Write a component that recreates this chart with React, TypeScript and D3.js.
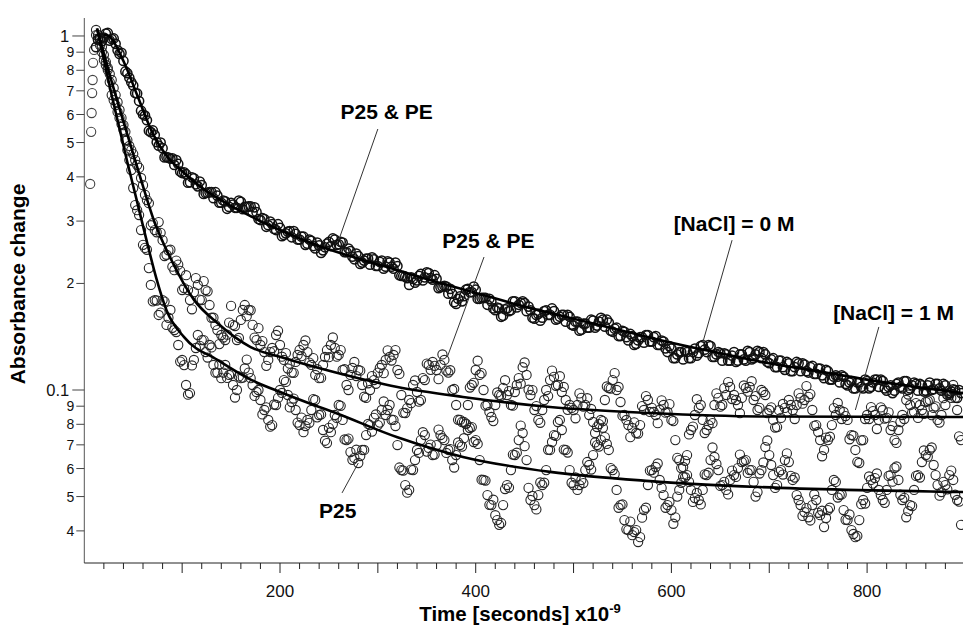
import React from 'react';
import * as d3 from 'd3';

// ---------- data ----------
const T0 = 12; // first sample time (ns)
const DT = 4;  // sampling step (ns); the "Mid" arrays are read at T0 + DT/2 + DT*i

// P25 & PE, [NaCl] = 0 M (upper trace)
const valuesA = [
  0.93, 0.985, 0.99, 1.02, 0.98, 0.95, 0.89, 0.85, 0.785, 0.74,
  0.69, 0.655, 0.60, 0.578, 0.535, 0.525, 0.49, 0.482, 0.455, 0.45,
  0.432, 0.435, 0.41, 0.407, 0.386, 0.396, 0.376, 0.379, 0.36, 0.362,
  0.348, 0.354, 0.338, 0.341, 0.329, 0.334, 0.327, 0.34, 0.329, 0.33,
  0.318, 0.318, 0.302, 0.304, 0.292, 0.294, 0.283, 0.287, 0.274, 0.28,
  0.27, 0.276, 0.266, 0.271, 0.259, 0.264, 0.251, 0.256, 0.248, 0.259,
  0.255, 0.266, 0.258, 0.261, 0.245, 0.247, 0.234, 0.239, 0.229, 0.235,
  0.226, 0.234, 0.224, 0.232, 0.223, 0.229, 0.22, 0.224, 0.21, 0.209,
  0.198, 0.206, 0.204, 0.213, 0.208, 0.214, 0.205, 0.206, 0.195, 0.197,
  0.187, 0.187, 0.175, 0.184, 0.184, 0.193, 0.189, 0.192, 0.181, 0.182,
  0.174, 0.178, 0.168, 0.17, 0.162, 0.17, 0.168, 0.178, 0.174, 0.178,
  0.167, 0.168, 0.159, 0.164, 0.16, 0.168, 0.163, 0.167, 0.159, 0.163,
  0.156, 0.161, 0.152, 0.156, 0.148, 0.154, 0.15, 0.157, 0.152, 0.16,
  0.151, 0.155, 0.146, 0.15, 0.142, 0.146, 0.138, 0.142, 0.135, 0.141,
  0.136, 0.143, 0.137, 0.142, 0.134, 0.137, 0.128, 0.131, 0.123, 0.128,
  0.122, 0.128, 0.123, 0.131, 0.127, 0.134, 0.128, 0.133, 0.124, 0.128,
  0.121, 0.126, 0.121, 0.128, 0.121, 0.126, 0.121, 0.128, 0.123, 0.129,
  0.123, 0.126, 0.119, 0.123, 0.116, 0.121, 0.114, 0.119, 0.113, 0.12,
  0.113, 0.118, 0.112, 0.117, 0.111, 0.115, 0.108, 0.113, 0.107, 0.11,
  0.105, 0.109, 0.103, 0.106, 0.101, 0.105, 0.101, 0.106, 0.102, 0.107,
  0.102, 0.106, 0.0995, 0.103, 0.0995, 0.105, 0.101, 0.106, 0.101, 0.105,
  0.0995, 0.103, 0.0995, 0.105, 0.1005, 0.104, 0.0995, 0.103, 0.098, 0.1005, 0.095, 0.098,
];
const valuesAMid = [
  0.978, 0.967, 1.016, 0.970, 0.984, 0.911, 0.896, 0.794, 0.762, 0.725,
  0.688, 0.615, 0.596, 0.540, 0.541, 0.501, 0.500, 0.454, 0.453, 0.451,
  0.446, 0.414, 0.412, 0.385, 0.399, 0.381, 0.388, 0.358, 0.361, 0.362,
  0.362, 0.338, 0.343, 0.325, 0.338, 0.327, 0.343, 0.324, 0.329, 0.330,
  0.328, 0.304, 0.306, 0.289, 0.299, 0.285, 0.294, 0.272, 0.277, 0.281,
  0.281, 0.266, 0.271, 0.257, 0.266, 0.255, 0.261, 0.244, 0.253, 0.262,
  0.268, 0.257, 0.262, 0.245, 0.251, 0.238, 0.243, 0.227, 0.232, 0.235,
  0.237, 0.224, 0.230, 0.220, 0.231, 0.223, 0.229, 0.211, 0.210, 0.207,
  0.208, 0.201, 0.210, 0.204, 0.215, 0.207, 0.211, 0.194, 0.196, 0.196,
  0.193, 0.177, 0.181, 0.178, 0.192, 0.189, 0.196, 0.181, 0.182, 0.182,
  0.181, 0.170, 0.171, 0.161, 0.169, 0.167, 0.178, 0.171, 0.176, 0.176,
  0.172, 0.160, 0.163, 0.157, 0.167, 0.163, 0.170, 0.158, 0.161, 0.163,
  0.163, 0.153, 0.156, 0.147, 0.154, 0.150, 0.158, 0.150, 0.156, 0.158,
  0.158, 0.147, 0.149, 0.142, 0.147, 0.141, 0.144, 0.134, 0.138, 0.141,
  0.143, 0.137, 0.141, 0.134, 0.138, 0.131, 0.133, 0.123, 0.126, 0.128,
  0.129, 0.123, 0.128, 0.125, 0.133, 0.130, 0.134, 0.124, 0.126, 0.127,
  0.127, 0.121, 0.125, 0.120, 0.126, 0.122, 0.129, 0.122, 0.126, 0.128,
  0.128, 0.120, 0.122, 0.116, 0.121, 0.116, 0.120, 0.113, 0.116, 0.119,
  0.119, 0.113, 0.116, 0.111, 0.115, 0.110, 0.114, 0.107, 0.109, 0.109,
  0.110, 0.104, 0.105, 0.101, 0.105, 0.102, 0.107, 0.101, 0.105, 0.107,
  0.107, 0.101, 0.102, 0.098, 0.104, 0.102, 0.106, 0.100, 0.103, 0.104,
  0.104, 0.099, 0.103, 0.100, 0.104, 0.101, 0.104, 0.097, 0.099, 0.100, 0.100,
];

// P25 & PE, [NaCl] = 1 M (middle trace)
const valuesB = [
  1.040, 0.974, 0.884, 0.813, 0.751, 0.681, 0.618, 0.560, 0.508, 0.476,
  0.446, 0.424, 0.379, 0.344, 0.292, 0.283, 0.298, 0.265, 0.241, 0.249,
  0.218, 0.226, 0.1916, 0.211, 0.1795, 0.189, 0.198, 0.1795, 0.1916, 0.1738,
  0.160, 0.1477, 0.1430, 0.1384, 0.155, 0.1527, 0.1384, 0.1577, 0.1738, 0.1683,
  0.1527, 0.1384, 0.1340, 0.128, 0.1216, 0.1314, 0.1430, 0.1340, 0.1216, 0.115,
  0.112, 0.120, 0.1297, 0.1340, 0.128, 0.1177, 0.1103, 0.108, 0.1177, 0.1297,
  0.1340, 0.1314, 0.1256, 0.1139, 0.1033, 0.1103, 0.120, 0.1139, 0.1033, 0.095,
  0.1000, 0.1067, 0.112, 0.1177, 0.1216, 0.124, 0.1256, 0.1139, 0.0968, 0.0861,
  0.0937, 0.1033, 0.0987, 0.0937, 0.1067, 0.1177, 0.120, 0.1139, 0.1177, 0.1216,
  0.112, 0.1000, 0.0907, 0.0823, 0.0812, 0.0907, 0.1033, 0.1139, 0.1103, 0.1000,
  0.0907, 0.0839, 0.0907, 0.0968, 0.1013, 0.0968, 0.0907, 0.0987, 0.108, 0.116,
  0.1103, 0.0968, 0.0878, 0.0823, 0.0878, 0.1000, 0.1067, 0.1089, 0.1033, 0.0987,
  0.0937, 0.0907, 0.0878, 0.0907, 0.095, 0.0907, 0.0850, 0.0812, 0.0786, 0.0823,
  0.0937, 0.1013, 0.1067, 0.1000, 0.0925, 0.0850, 0.0796, 0.0781, 0.0756, 0.0796,
  0.0878, 0.0937, 0.089, 0.0850, 0.0878, 0.0907, 0.0867, 0.0823, 0.0722, 0.0634,
  0.0568, 0.0655, 0.0771, 0.0850, 0.089, 0.0823, 0.0771, 0.0823, 0.0907, 0.095,
  0.0907, 0.0968, 0.102, 0.0968, 0.0907, 0.095, 0.1013, 0.102, 0.0937, 0.0878,
  0.1000, 0.0968, 0.0878, 0.0823, 0.0786, 0.0834, 0.089, 0.0937, 0.0878, 0.0907,
  0.095, 0.0937, 0.0956, 0.0878, 0.0796, 0.0722, 0.0677, 0.0722, 0.0796, 0.0850,
  0.0878, 0.0867, 0.0823, 0.0746, 0.0677, 0.0622, 0.0722, 0.0850, 0.0895, 0.0850,
  0.0823, 0.0878, 0.0834, 0.0771, 0.0722, 0.0771, 0.0850, 0.0937, 0.0907, 0.0867,
  0.0834, 0.0878, 0.0925, 0.0937, 0.089, 0.0823, 0.0850, 0.0907, 0.0968, 0.1033, 0.0878, 0.0722,
];
const valuesBMid = [
  1.0065, 0.931, 0.845, 0.781, 0.713, 0.650, 0.587, 0.536, 0.489, 0.464,
  0.432, 0.397, 0.356, 0.337, 0.296, 0.279, 0.278, 0.239, 0.248, 0.223,
  0.232, 0.217, 0.194, 0.1916, 0.169, 0.207, 0.180, 0.203, 0.190, 0.160,
  0.1527, 0.1348, 0.1407, 0.1433, 0.1728, 0.1516, 0.1403, 0.1683, 0.1616, 0.168,
  0.1406, 0.1495, 0.1375, 0.117, 0.128, 0.1287, 0.147, 0.1242, 0.1271, 0.1187,
  0.1118, 0.1256, 0.1246, 0.138, 0.1195, 0.123, 0.1145, 0.1082, 0.124, 0.1238,
  0.1407, 0.1242, 0.1296, 0.1145, 0.100, 0.1154, 0.1095, 0.1134, 0.0957, 0.1045,
  0.1095, 0.1041, 0.1154, 0.1116, 0.1294, 0.1211, 0.1296, 0.111, 0.0862, 0.0889,
  0.0918, 0.1064, 0.0927, 0.108, 0.1187, 0.114, 0.117, 0.1073, 0.126, 0.1135,
  0.1137, 0.1007, 0.0824, 0.0812, 0.0801, 0.1016, 0.1048, 0.121, 0.1116, 0.0903,
  0.0867, 0.0817, 0.0984, 0.0963, 0.1066, 0.0993, 0.0903, 0.1033, 0.1042, 0.1196,
  0.1002, 0.0999, 0.0901, 0.0808, 0.0937, 0.0961, 0.1134, 0.1028, 0.1094, 0.102,
  0.0879, 0.089, 0.0832, 0.0978, 0.0897, 0.0948, 0.0884, 0.0756, 0.0801, 0.0817,
  0.1023, 0.1009, 0.1116, 0.102, 0.0846, 0.0823, 0.0736, 0.081, 0.0753, 0.0901,
  0.0961, 0.0867, 0.0867, 0.0806, 0.0935, 0.0863, 0.0912, 0.0817, 0.0643, 0.0602,
  0.0567, 0.0749, 0.0788, 0.0942, 0.0907, 0.0756, 0.0796, 0.0806, 0.0978, 0.0897,
  0.1012, 0.1053, 0.0943, 0.0937, 0.086, 0.103, 0.0989, 0.1059, 0.0961, 0.089,
  0.0987, 0.086, 0.0893, 0.0783, 0.0877, 0.0913, 0.0867, 0.0907, 0.0828, 0.0978,
  0.0915, 0.1026, 0.0974, 0.0792, 0.0761, 0.065, 0.0734, 0.0738, 0.0889, 0.0919,
  0.0828, 0.0844, 0.0726, 0.0743, 0.0627, 0.0721, 0.0828, 0.0828, 0.0872, 0.0776,
  0.0893, 0.083, 0.0865, 0.0791, 0.0709, 0.0812, 0.0828, 0.0971, 0.0863, 0.0918,
  0.0907, 0.0856, 0.0931, 0.0849, 0.0899, 0.0809, 0.0948, 0.0993, 0.095, 0.095, 0.074,
];

// P25 (lower trace)
const valuesC = [
  1.006, 0.943, 0.856, 0.802, 0.681, 0.638, 0.587, 0.543, 0.476, 0.418,
  0.333, 0.312, 0.257, 0.249, 0.198, 0.1795, 0.1629, 0.1795, 0.1527, 0.1683,
  0.1477, 0.1340, 0.1216, 0.1033, 0.098, 0.1216, 0.1430, 0.1384, 0.128, 0.1340,
  0.1177, 0.112, 0.108, 0.1177, 0.1103, 0.1033, 0.1000, 0.108, 0.115, 0.112,
  0.1033, 0.0987, 0.0937, 0.0878, 0.0823, 0.0796, 0.0907, 0.1000, 0.1067, 0.0968,
  0.0925, 0.0878, 0.0796, 0.076, 0.0823, 0.0878, 0.0937, 0.0850, 0.0771, 0.0708,
  0.076, 0.0850, 0.0907, 0.0823, 0.0722, 0.0668, 0.0643, 0.0622, 0.0677, 0.0746,
  0.0796, 0.0834, 0.0796, 0.0878, 0.0850, 0.0907, 0.0823, 0.0699, 0.0594, 0.0539,
  0.0522, 0.0594, 0.0677, 0.0722, 0.0746, 0.0686, 0.0655, 0.0699, 0.0746, 0.0722,
  0.0677, 0.0634, 0.0655, 0.0699, 0.0731, 0.0771, 0.0786, 0.0722, 0.0634, 0.0557,
  0.0505, 0.0473, 0.0443, 0.0416, 0.0473, 0.0539, 0.0594, 0.0655, 0.0722, 0.0756,
  0.0634, 0.0489, 0.0473, 0.0505, 0.0539, 0.0594, 0.0677, 0.0746, 0.0812, 0.0771,
  0.0677, 0.0594, 0.0539, 0.0522, 0.0557, 0.0594, 0.0614, 0.0655, 0.0699, 0.0722,
  0.0736, 0.0677, 0.0594, 0.0522, 0.0473, 0.0429, 0.0402, 0.0389, 0.0402, 0.0384,
  0.0458, 0.0539, 0.0594, 0.0606, 0.0557, 0.0505, 0.0473, 0.0458, 0.0437, 0.0522,
  0.0606, 0.0575, 0.0522, 0.0495, 0.0489, 0.0522, 0.0575, 0.0634, 0.0647, 0.0594,
  0.0539, 0.0522, 0.0557, 0.0575, 0.0602, 0.0626, 0.0634, 0.0594, 0.0550, 0.0515,
  0.0594, 0.0690, 0.0655, 0.0575, 0.0539, 0.0594, 0.0634, 0.0626, 0.0557, 0.0505,
  0.0473, 0.0452, 0.0437, 0.0473, 0.0489, 0.0443, 0.0410, 0.0458, 0.0522, 0.0550,
  0.0505, 0.0458, 0.0429, 0.0402, 0.0384, 0.0429, 0.0489, 0.0529, 0.0557, 0.0564,
  0.0522, 0.0489, 0.0522, 0.0575, 0.0602, 0.0557, 0.0489, 0.0437, 0.0473, 0.0522,
  0.0575, 0.0626, 0.0655, 0.0677, 0.0614, 0.0539, 0.0515, 0.0539, 0.0575, 0.0557, 0.0489, 0.0416,
];
const valuesCMid = [
  0.974, 0.901, 0.828, 0.741, 0.659, 0.610, 0.564, 0.508, 0.446, 0.372,
  0.322, 0.283, 0.252, 0.221, 0.178, 0.179, 0.1654, 0.1777, 0.160, 0.1498,
  0.1458, 0.1203, 0.1176, 0.097, 0.1173, 0.1314, 0.1332, 0.1384, 0.1235, 0.1319,
  0.1119, 0.118, 0.112, 0.1082, 0.111, 0.0952, 0.1092, 0.1084, 0.1219, 0.108,
  0.0962, 0.1, 0.0853, 0.0893, 0.0788, 0.091, 0.095, 0.0981, 0.1054, 0.0893,
  0.0946, 0.0809, 0.0836, 0.0791, 0.0808, 0.0943, 0.0837, 0.0853, 0.0719, 0.0782,
  0.0801, 0.0834, 0.0902, 0.0725, 0.0729, 0.0635, 0.0678, 0.0651, 0.0677, 0.0802,
  0.0763, 0.0853, 0.0809, 0.0928, 0.0878, 0.0824, 0.0791, 0.0604, 0.0592, 0.0513,
  0.0596, 0.0634, 0.0664, 0.076, 0.067, 0.0701, 0.0657, 0.0773, 0.0731, 0.0664,
  0.0681, 0.0604, 0.0711, 0.0692, 0.0804, 0.0781, 0.0713, 0.0704, 0.0558, 0.0555,
  0.0474, 0.049, 0.0429, 0.0421, 0.0525, 0.053, 0.0657, 0.0665, 0.0793, 0.0694,
  0.0529, 0.0502, 0.046, 0.0548, 0.0547, 0.0678, 0.0713, 0.0742, 0.0823, 0.0679,
  0.0666, 0.0547, 0.0566, 0.0539, 0.0546, 0.0626, 0.0596, 0.0711, 0.0692, 0.0782,
  0.0704, 0.0602, 0.0579, 0.0465, 0.0475, 0.0404, 0.0425, 0.0397, 0.0372, 0.0436,
  0.0465, 0.0592, 0.0584, 0.062, 0.0529, 0.0465, 0.0483, 0.0419, 0.05, 0.0547,
  0.0631, 0.055, 0.0483, 0.0512, 0.0475, 0.0578, 0.0584, 0.0688, 0.0618, 0.0536,
  0.055, 0.0507, 0.0592, 0.0568, 0.0657, 0.063, 0.0583, 0.0594, 0.05, 0.0581,
  0.0624, 0.072, 0.0614, 0.0529, 0.0587, 0.0577, 0.0662, 0.0572, 0.0566, 0.0489,
  0.0441, 0.0464, 0.0428, 0.0507, 0.045, 0.0456, 0.0435, 0.0465, 0.0557, 0.0497,
  0.0507, 0.043, 0.0445, 0.0392, 0.0387, 0.0476, 0.0478, 0.057, 0.0544, 0.0581,
  0.0505, 0.048, 0.0572, 0.0551, 0.0608, 0.0506, 0.0496, 0.0455, 0.047, 0.0572,
  0.0566, 0.0675, 0.0648, 0.0688, 0.0575, 0.0503, 0.055, 0.0524, 0.0592, 0.0506, 0.0484,
];

// isolated points on the rising edge
const riseTimes = [6, 7, 7.5, 8, 8.5, 9, 10];
const riseValues = [0.382, 0.536, 0.606, 0.69, 0.751, 0.84, 0.913];

// fitted curves
const fitATimes = [20, 25, 40, 55, 70, 85, 100, 120, 140, 160, 180, 200, 240, 280, 320, 360, 400, 450, 500, 550, 600, 650, 700, 750, 800, 850, 898];
const fitAValues = [1.01, 1.0, 0.85, 0.67, 0.53, 0.455, 0.415, 0.373, 0.343, 0.32, 0.30, 0.283, 0.255, 0.235, 0.218, 0.202, 0.188, 0.172, 0.159, 0.147, 0.136, 0.127, 0.119, 0.113, 0.107, 0.102, 0.098];
const fitBTimes = [13, 26, 41, 58, 71, 89, 112, 136, 170, 204, 255, 320, 387, 476, 578, 690, 898];
const fitBValues = [1.05, 0.776, 0.561, 0.392, 0.302, 0.233, 0.180, 0.1546, 0.1322, 0.1231, 0.1124, 0.102, 0.0956, 0.0895, 0.0861, 0.0842, 0.0839];
const fitCTimes = [13, 28, 44, 54, 64, 74, 84, 102, 136, 170, 204, 238, 255, 320, 387, 476, 578, 690, 898];
const fitCValues = [1.05, 0.68, 0.44, 0.34, 0.262, 0.205, 0.168, 0.141, 0.1216, 0.107, 0.0978, 0.090, 0.0865, 0.0735, 0.0647, 0.0587, 0.0553, 0.0532, 0.0515];

// axes
const xTickLabels = [200, 400, 600, 800];
const xMinorTicks = d3.range(20, 900, 20);
const yDecadeTicks = [1, 0.1];
const yMinorTicks = [0.9, 0.8, 0.7, 0.6, 0.5, 0.4, 0.3, 0.2, 0.09, 0.08, 0.07, 0.06, 0.05, 0.04];
const xDomain = [0, 898];
const yDomain = [0.03246, 1.124];

// annotations
const annoText = ['P25 & PE', 'P25 & PE', '[NaCl] = 0 M', '[NaCl] = 1 M', 'P25'];
const annoLabelT = [309, 413, 664, 827, 259];
const annoLabelV = [0.583, 0.252, 0.281, 0.1577, 0.0435];
const annoStartT = [300, 408.5, 662, 812, 263.4];
const annoStartV = [0.546, 0.2375, 0.265, 0.1507, 0.0512];
const annoTipT = [260, 371, 632, 788, 280];
const annoTipV = [0.265, 0.124, 0.136, 0.0878, 0.0622];

// ---------- layout ----------
const W = 963;
const H = 628;
const X0 = 84.3;
const X1 = 963;
const YB = 563;
const YT = 18;
const FONT = '"Liberation Sans", Arial, Helvetica, sans-serif';

type P = [number, number];

export default function App() {
  const x = d3.scaleLinear().domain(xDomain).range([X0, X1]);
  const y = d3.scaleLog().domain(yDomain).range([YB, YT]);

  const toPts = (vals: number[], start: number) => vals.map((v, i) => [start + DT * i, v] as P);
  const ptsA = [...toPts(valuesA, T0), ...toPts(valuesAMid, T0 + DT / 2)];
  const ptsB = [...toPts(valuesB, T0), ...toPts(valuesBMid, T0 + DT / 2)];
  const ptsC = [...toPts(valuesC, T0), ...toPts(valuesCMid, T0 + DT / 2)];
  const ptsRise = riseTimes.map((t, i) => [t, riseValues[i]] as P);

  const line = d3
    .line<P>()
    .x((d) => x(d[0]))
    .y((d) => y(d[1]))
    .curve(d3.curveMonotoneX);
  const zip = (ts: number[], vs: number[]) => ts.map((t, i) => [t, vs[i]] as P);

  const r = 4.6;
  const dots = (pts: P[], key: string, sw: number, col: string) =>
    pts.map((d, i) => (
      <circle key={key + i} cx={x(d[0])} cy={y(d[1])} r={r} fill="none" stroke={col} strokeWidth={sw} />
    ));

  return (
    <svg
      width={W}
      height={H}
      style={{ position: 'absolute', left: 0, top: 0, background: '#fff' }}
      fontFamily={FONT}
    >
      <rect x={0} y={0} width={W} height={H} fill="#fff" />
      {/* data */}
      <g>{dots(ptsC, 'c', 1.1, '#262626')}</g>
      <g>{dots(ptsB, 'b', 1.1, '#262626')}</g>
      <g>{dots(ptsRise, 'r', 1.1, '#444')}</g>
      <g>{dots(ptsA, 'a', 1.5, '#111')}</g>
      {/* fits */}
      <path d={line(zip(fitATimes, fitAValues)) || ''} fill="none" stroke="#000" strokeWidth={2.6} />
      <path d={line(zip(fitBTimes, fitBValues)) || ''} fill="none" stroke="#000" strokeWidth={2.6} />
      <path d={line(zip(fitCTimes, fitCValues)) || ''} fill="none" stroke="#000" strokeWidth={2.6} />

      {/* axes */}
      <line x1={X0} x2={X0} y1={YT} y2={YB} stroke="#555" strokeWidth={1} />
      <line x1={X0} x2={X1} y1={YB} y2={YB} stroke="#222" strokeWidth={1} />
      {xMinorTicks.map((t) => (
        <line
          key={'xt' + t}
          x1={x(t)}
          x2={x(t)}
          y1={YB}
          y2={YB + (t % 100 === 0 ? 10 : 6)}
          stroke="#222"
          strokeWidth={1}
        />
      ))}
      {xTickLabels.map((t) => (
        <text key={'xl' + t} x={x(t)} y={597} textAnchor="middle" fontSize={17} fill="#111">
          {t}
        </text>
      ))}
      {yDecadeTicks.map((v) => (
        <g key={'yd' + v}>
          <line x1={X0 - 12} x2={X0} y1={y(v)} y2={y(v)} stroke="#444" strokeWidth={1} />
          <text x={X0 - 15} y={y(v) + 6} textAnchor="end" fontSize={16.5} fill="#111">
            {v === 1 ? '1' : '0.1'}
          </text>
        </g>
      ))}
      {yMinorTicks.map((v) => (
        <g key={'ym' + v}>
          <line x1={X0 - 8} x2={X0} y1={y(v)} y2={y(v)} stroke="#444" strokeWidth={1} />
          <text x={X0 - 10} y={y(v) + 5} textAnchor="end" fontSize={14} fill="#111">
            {Math.round(v >= 0.1 ? v * 10 : v * 100)}
          </text>
        </g>
      ))}

      {/* axis titles */}
      <text
        transform="translate(25,284) rotate(-90)"
        textAnchor="middle"
        fontSize={21}
        fontWeight="bold"
        fill="#000"
      >
        Absorbance change
      </text>
      <text x={520} y={621} textAnchor="middle" fontSize={20.5} fontWeight="bold" fill="#000">
        Time [seconds] x10
        <tspan fontSize={13} dy={-8}>
          -9
        </tspan>
      </text>

      {/* annotations */}
      {annoText.map((txt, i) => (
        <g key={'an' + i}>
          <line
            x1={x(annoStartT[i])}
            y1={y(annoStartV[i])}
            x2={x(annoTipT[i])}
            y2={y(annoTipV[i])}
            stroke="#333"
            strokeWidth={1}
          />
          <text
            x={x(annoLabelT[i])}
            y={y(annoLabelV[i])}
            textAnchor="middle"
            fontSize={21}
            fontWeight="bold"
            fill="#000"
          >
            {txt}
          </text>
        </g>
      ))}
    </svg>
  );
}
